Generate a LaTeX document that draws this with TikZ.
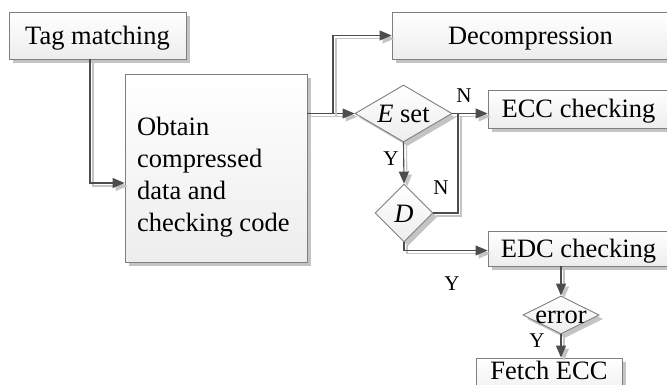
\documentclass[tikz,border=0pt]{standalone}
\usepackage{fontspec}
\setmainfont{Liberation Serif}
\usetikzlibrary{shapes.geometric,arrows.meta,shadows}

\definecolor{edgec}{HTML}{7F7F7F}
\definecolor{linec}{HTML}{4D4D4D}
\definecolor{shadc}{HTML}{C4C4C4}

\begin{document}
\begin{tikzpicture}[x=1pt,y=-1pt,
  font=\fontsize{26.5}{32}\selectfont,
  shadowed/.style={drop shadow={shadow xshift=4pt,shadow yshift=-4pt,fill=shadc,opacity=1}},
  box/.style={rectangle, draw=edgec, line width=0.9pt, top color=white, bottom color=gray!14,
    shadowed, inner sep=0pt, text height=20.2pt, text depth=2.65pt},
  dia/.style={diamond, draw=edgec, line width=0.9pt, top color=white, bottom color=gray!14,
    shadowed, inner sep=0pt},
  txt/.style={inner sep=0pt, text height=20.2pt, text depth=2.65pt},
  lab/.style={font=\fontsize{21}{25}\selectfont, inner sep=0pt, text height=13.9pt, text depth=0pt},
  link/.style={draw=linec, line width=1.1pt,
    preaction={draw=shadc, line width=1.1pt, transform canvas={shift={(3pt,-3pt)}}}},
  conn/.style={link, -{Triangle[length=12pt,width=10pt]}},
]
\useasboundingbox (0,0) rectangle (667,385);

% process boxes
\node[box, minimum width=177pt, minimum height=47pt] (tag) at (97.5,35.5) {Tag matching};
\node[box, minimum width=182pt, minimum height=188pt] (obtain) at (216,168) {};
\node[inner sep=0pt, anchor=north west, align=left] (obtaintext) at (137,117)
  {Obtain\\compressed\\data and\\checking code};
\node[box, minimum width=277pt, minimum height=47pt] (decomp) at (530.5,35.5) {Decompression};
\node[box, minimum width=181pt, minimum height=38pt] (ecc) at (578.5,109) {ECC checking};
\node[box, minimum width=181pt, minimum height=35pt] (edc) at (578.5,248.5) {EDC checking};
\node[box, minimum width=146pt, minimum height=42pt] (fetch) at (549,379) {};
\node[txt] (fetchtext) at (549,371) {Fetch ECC};

% decisions
\node[dia, minimum width=97pt, minimum height=57pt] (eset) at (403.5,113.5) {};
\node[txt] (esettext) at (403.5,113.5) {\textit{E} set};
\node[dia, minimum width=58pt, minimum height=58pt] (dd) at (404,213) {};
\node[txt] (ddtext) at (404,213.5) {\textit{D}};
\node[dia, minimum width=76pt, minimum height=38pt] (err) at (561,315) {};
\node[txt] (errtext) at (561,315) {error};

% junction points
\coordinate (split) at (333,113.5);
\coordinate (merge) at (458,113.5);

% connectors
\draw[conn] ([xshift=-7.5pt]tag.south) |- ([yshift=-15pt]obtain.west);
\draw[conn] (obtain.east |- eset.west) -- (eset.west);
\draw[conn] (split) |- (decomp.west);
\draw[conn] (eset.east) -- (eset.east -| ecc.west);
\draw[conn] (eset.south) -- (dd.north);
\draw[link] (dd.east) -| (merge);
\draw[conn] (dd.south) |- ([yshift=-2pt]edc.west);
\draw[conn] (edc.south -| err.north) -- (err.north);
\draw[conn] (err.south) -- (err.south |- fetch.north);

% branch labels
\node[lab] (n1) at (464,96) {N};
\node[lab] (y1) at (391,159) {Y};
\node[lab] (n2) at (441,188) {N};
\node[lab] (y2) at (452,284) {Y};
\node[lab] (y3) at (537,341) {Y};
\end{tikzpicture}
\end{document}
